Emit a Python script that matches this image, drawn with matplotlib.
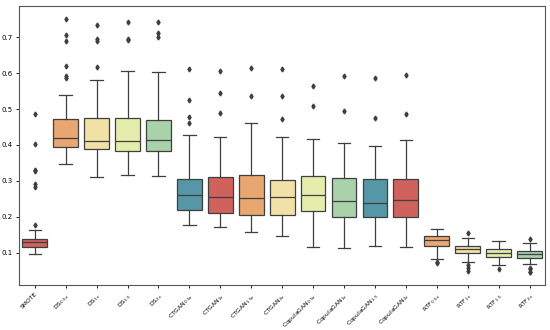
import matplotlib
matplotlib.use("Agg")
import matplotlib.pyplot as plt
import seaborn as sns

labels = ["SMOTE", r"DS$_{0.5x}$", r"DS$_{1x}$", r"DS$_{1.5}$", r"DS$_{2x}$",
          r"CTGAN$_{0.5x}$", r"CTGAN$_{1x}$", r"CTGAN$_{1.5x}$", r"CTGAN$_{2x}$",
          r"CopulaGAN$_{0.5x}$", r"CopulaGAN$_{1x}$", r"CopulaGAN$_{1.5}$", r"CopulaGAN$_{2x}$",
          r"RTF$_{0.5x}$", r"RTF$_{1x}$", r"RTF$_{1.5}$", r"RTF$_{2x}$"]

# box statistics
whislo = [0.095, 0.347, 0.310, 0.315, 0.314, 0.178, 0.171, 0.158, 0.145,
          0.115, 0.112, 0.117, 0.115, 0.083, 0.074, 0.066, 0.068]
q1 = [0.115, 0.395, 0.390, 0.382, 0.382, 0.218, 0.211, 0.206, 0.204,
      0.217, 0.199, 0.200, 0.199, 0.119, 0.098, 0.087, 0.086]
med = [0.128, 0.419, 0.411, 0.412, 0.414, 0.261, 0.254, 0.251, 0.256,
       0.260, 0.244, 0.239, 0.247, 0.134, 0.111, 0.099, 0.095]
q3 = [0.139, 0.473, 0.476, 0.475, 0.471, 0.305, 0.312, 0.315, 0.303,
      0.314, 0.308, 0.304, 0.304, 0.146, 0.118, 0.109, 0.103]
whishi = [0.164, 0.539, 0.582, 0.607, 0.603, 0.427, 0.421, 0.460, 0.423,
          0.416, 0.406, 0.398, 0.415, 0.165, 0.140, 0.133, 0.127]
fliers = [
    [0.176, 0.283, 0.290, 0.327, 0.331, 0.404, 0.487],
    [0.588, 0.593, 0.621, 0.691, 0.707, 0.752],
    [0.617, 0.691, 0.696, 0.735],
    [0.692, 0.696, 0.744],
    [0.700, 0.713, 0.742],
    [0.460, 0.477, 0.526, 0.612],
    [0.490, 0.546, 0.607],
    [0.538, 0.614],
    [0.473, 0.538, 0.613],
    [0.510, 0.566],
    [0.495, 0.593],
    [0.476, 0.586],
    [0.487, 0.596],
    [0.070, 0.073],
    [0.048, 0.058, 0.064, 0.154],
    [0.054],
    [0.045, 0.046, 0.053, 0.058, 0.139],
]

stats = []
for i in range(len(labels)):
    stats.append({"whislo": whislo[i], "q1": q1[i], "med": med[i], "q3": q3[i],
                  "whishi": whishi[i], "fliers": fliers[i]})

pal = sns.color_palette("Spectral", 6)
colors = [sns.desaturate(pal[i % 6], 0.75) for i in range(len(labels))]
edge = "#3f3f3f"

fig = plt.figure(figsize=(5.5, 3.3), dpi=100)
ax = fig.add_axes([0.035, 0.136, 0.956, 0.846])

bp = ax.bxp(stats, positions=range(len(labels)), widths=0.8, patch_artist=True,
            boxprops=dict(edgecolor=edge, linewidth=0.9),
            medianprops=dict(color=edge, linewidth=0.9),
            whiskerprops=dict(color=edge, linewidth=0.9),
            capprops=dict(color=edge, linewidth=0.9),
            flierprops=dict(marker="d", markersize=2.5, markerfacecolor=edge,
                            markeredgecolor=edge, linestyle="none"))
for patch, c in zip(bp["boxes"], colors):
    patch.set_facecolor(c)

ax.set_xlim(-0.5, len(labels) - 0.5)
ax.set_ylim(0.009, 0.788)
ax.set_yticks([0.1, 0.2, 0.3, 0.4, 0.5, 0.6, 0.7])
ax.set_xticks(range(len(labels)))
ax.set_xticklabels(labels, rotation=45, ha="right", rotation_mode="anchor", fontsize=4.3)
ax.tick_params(axis="y", labelsize=5)
ax.tick_params(length=2.5, width=0.6, pad=2)
for s in ax.spines.values():
    s.set_linewidth(0.8)
    s.set_color("#555555")

fig.savefig("out.png", dpi=100)
